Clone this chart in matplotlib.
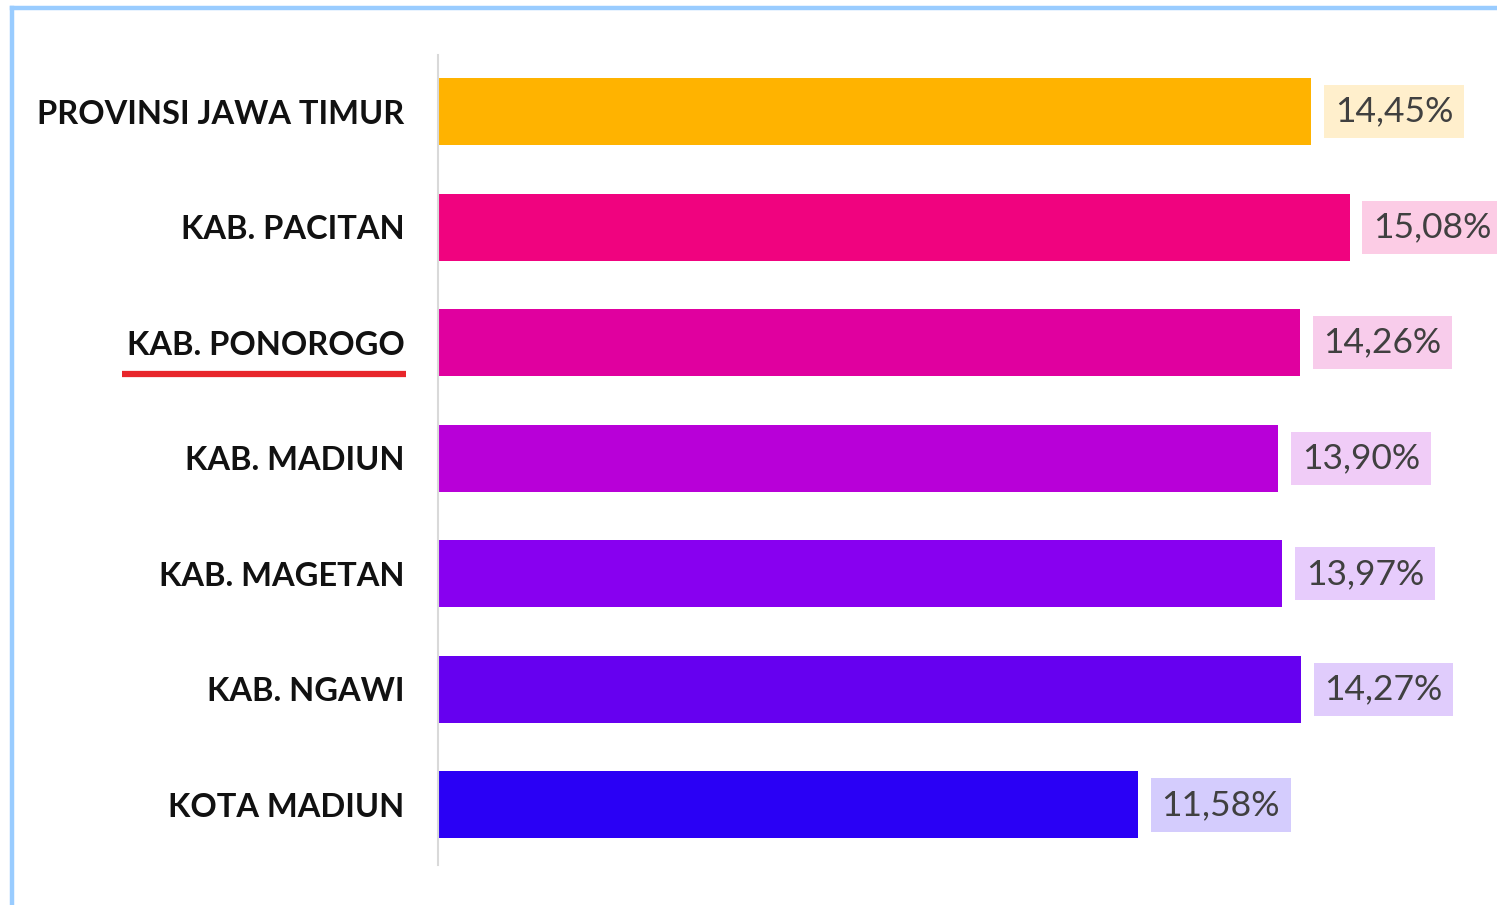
import matplotlib.pyplot as plt
from matplotlib.lines import Line2D
from matplotlib.colors import to_rgba

regions = ["PROVINSI JAWA TIMUR", "KAB. PACITAN", "KAB. PONOROGO", "KAB. MADIUN",
           "KAB. MAGETAN", "KAB. NGAWI", "KOTA MADIUN"]
values = [14.45, 15.08, 14.26, 13.90, 13.97, 14.27, 11.58]
colors = ["#FFB300", "#F0037F", "#E0009F", "#B800D8", "#8800F0", "#6600F0", "#2A00F5"]

W, H = 1497, 905
fig = plt.figure(figsize=(W / 100, H / 100), dpi=100)
fig.patch.set_facecolor("white")
ax = fig.add_axes([438 / W, 40 / H, (W - 438) / W, 810 / H])

ypos = list(range(len(regions)))
ax.barh(ypos, values, height=0.58, color=colors)
ax.set_xlim(0, 17.52)
ax.set_ylim(6.52, -0.49)

ax.set_yticks(ypos)
ax.set_yticklabels(regions, fontsize=23.5, fontweight="bold", family="Lato", color="#111111")
ax.tick_params(axis="y", length=0, pad=24)
ax.set_xticks([])
for s in ["top", "right", "bottom"]:
    ax.spines[s].set_visible(False)
ax.spines["left"].set_color("#D9D9D9")
ax.spines["left"].set_linewidth(1.5)

for y, v, c in zip(ypos, values, colors):
    label = f"{v:.2f}%".replace(".", ",")
    ax.annotate(label, (v, y), xytext=(17, 0), textcoords="offset points",
                ha="left", va="center", fontsize=25.5, family="Lato", color="#404040",
                bbox=dict(boxstyle="square,pad=0.3", fc=to_rgba(c, 0.2), ec="none"))

# red underline under KAB. PONOROGO
fig.add_artist(Line2D([122 / W, 406 / W], [1 - 374 / H, 1 - 374 / H], color="#E8262B",
                      lw=4.5, solid_capstyle="butt"))

# light blue frame at top and left
fig.add_artist(Line2D([12 / W, 1], [1 - 8 / H, 1 - 8 / H], color="#99CCFF", lw=3.2))
fig.add_artist(Line2D([12 / W, 12 / W], [0, 1 - 8 / H], color="#99CCFF", lw=3.2))

fig.savefig("out.png", dpi=100)
